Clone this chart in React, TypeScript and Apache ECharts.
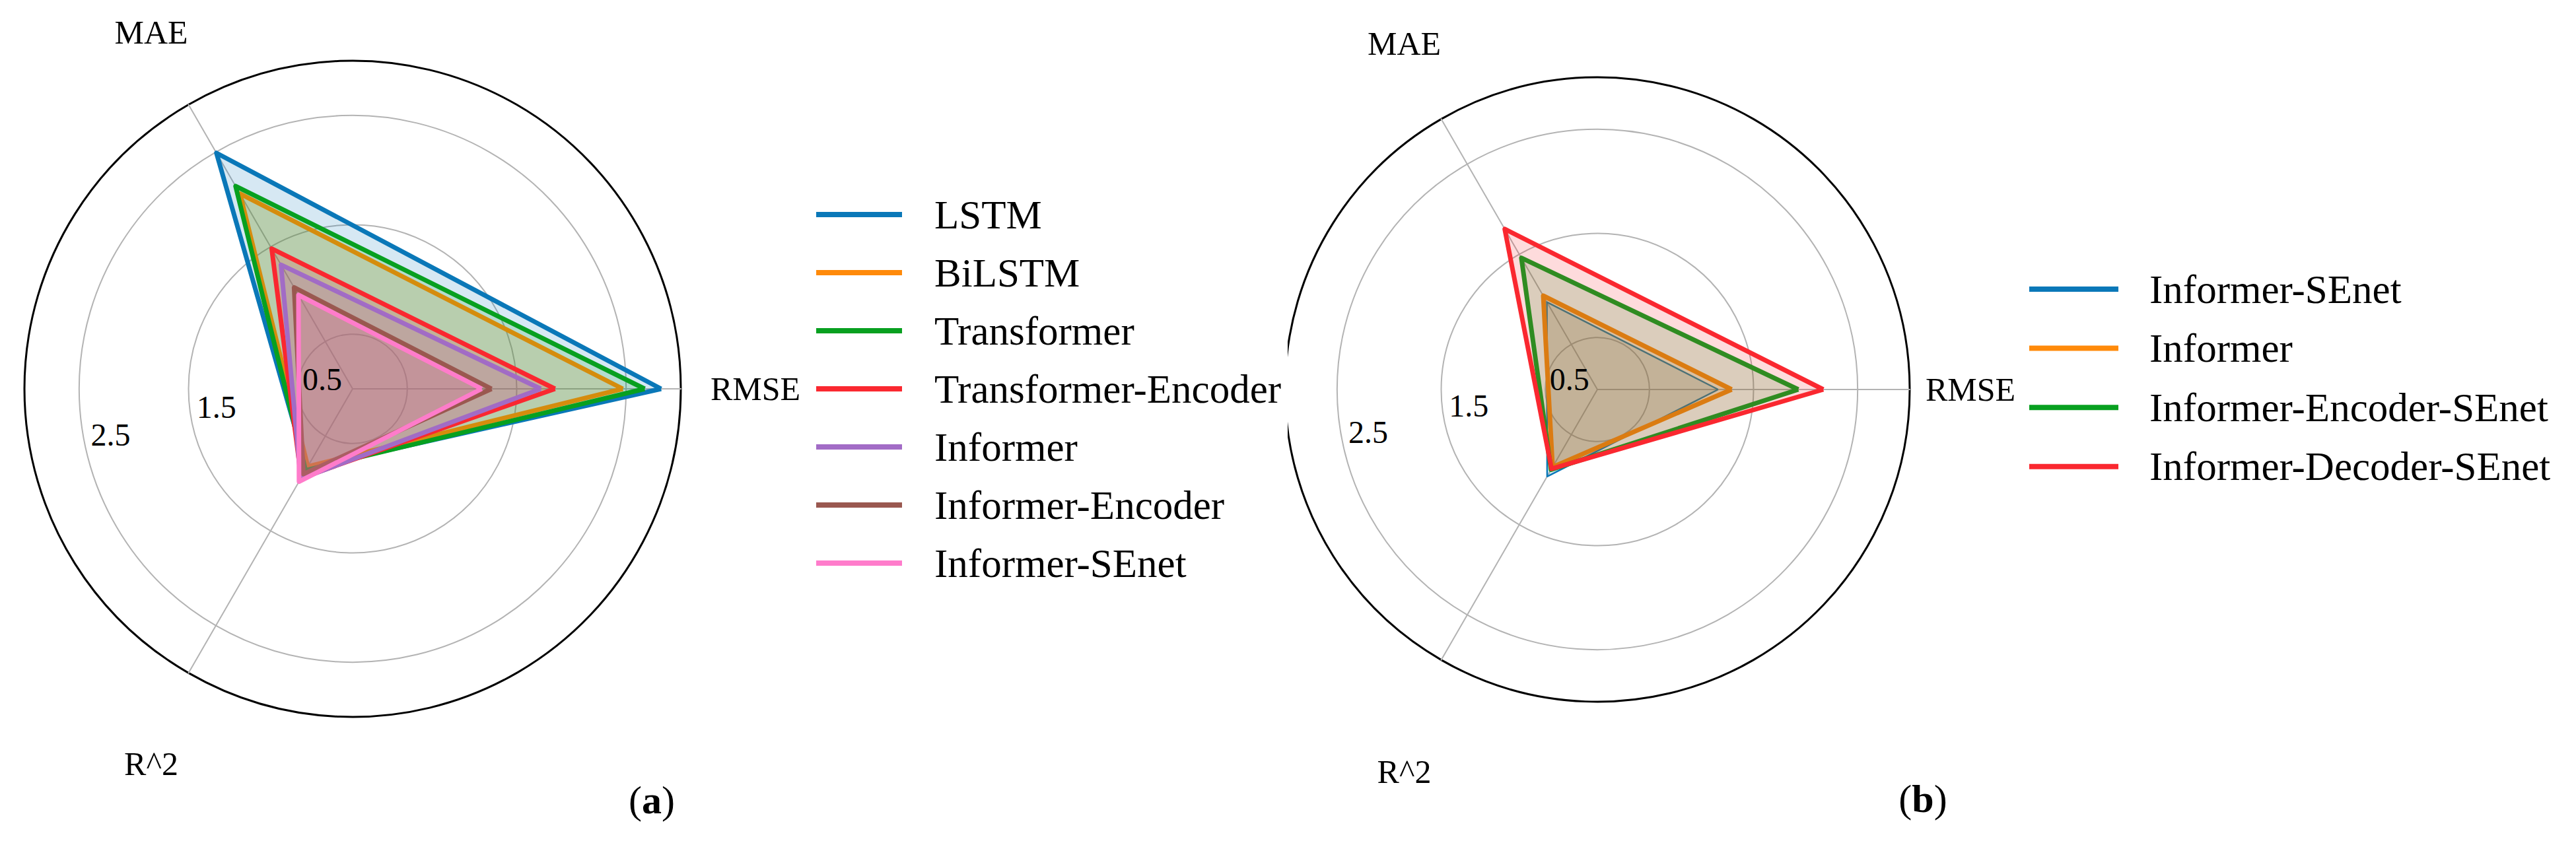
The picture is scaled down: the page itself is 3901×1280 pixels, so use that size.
import React, { useEffect, useRef } from 'react';
import * as echarts from 'echarts';

// ---------- data ----------
const indicators = ['RMSE', 'MAE', 'R^2'];
const axisMax = 3;
const tickLabelValues = [0.5, 1.5, 2.5];

// panel (a)
const modelsA = ['LSTM', 'BiLSTM', 'Transformer', 'Transformer-Encoder', 'Informer', 'Informer-Encoder', 'Informer-SEnet'];
const rmseA = [2.82, 2.47, 2.67, 1.85, 1.72, 1.27, 1.18];
const maeA = [2.49, 2.06, 2.14, 1.48, 1.31, 1.07, 0.99];
const r2A = [0.84, 0.82, 0.86, 0.94, 0.95, 0.9, 0.98];
const colorsA = ['#0a78b8', '#ff8a0a', '#08a020', '#fa2830', '#a26cc6', '#9a5850', '#ff7ccb'];

// panel (b)
const modelsB = ['Informer-SEnet', 'Informer', 'Informer-Encoder-SEnet', 'Informer-Decoder-SEnet'];
const rmseB = [1.16, 1.29, 1.93, 2.17];
const maeB = [0.97, 1.04, 1.46, 1.78];
const r2B = [0.965, 0.86, 0.89, 0.88];
const colorsB = ['#0a78b8', '#ff8a0a', '#08a020', '#fa2830'];
const lineWidthsB = [2.5, 7, 7, 7];

const FONT = "'Liberation Serif', 'Times New Roman', serif";

type Panel = {
  models: string[];
  rmse: number[];
  mae: number[];
  r2: number[];
  colors: string[];
  widths: number[];
  center: [number, number];
  radius: number;
  nameGap: number;
  namePads: number[][];
  legendLeft: number;
  legendTop: number;
  legendItemWidth: number;
  legendGap: number;
  legendPad: number;
  caption: string;
  captionX: number;
  captionY: number;
};

function makeOption(p: Panel) {
  const gray = '#b3b3b3';
  const clear = 'rgba(0,0,0,0)';
  const rich: Record<string, any> = {};
  indicators.forEach((_, i) => {
    rich['n' + i] = { fontFamily: FONT, fontSize: 50, color: '#000', padding: p.namePads[i] };
  });
  return {
    animation: false,
    backgroundColor: '#ffffff',
    legend: {
      orient: 'vertical',
      left: p.legendLeft,
      top: p.legendTop,
      data: p.models.map((n) => ({ name: n, icon: 'rect' })),
      itemWidth: p.legendItemWidth,
      itemHeight: 8,
      itemGap: p.legendGap,
      selectedMode: false,
      itemStyle: { borderWidth: 0 },
      textStyle: {
        fontFamily: FONT,
        fontSize: 61,
        color: '#000',
        lineHeight: 70,
        padding: [0, 0, 0, p.legendPad],
      },
    },
    radar: {
      center: p.center,
      radius: p.radius,
      startAngle: 0,
      shape: 'circle',
      splitNumber: 6,
      indicator: indicators.map((n) => ({ name: n, min: 0, max: axisMax })),
      axisName: {
        color: '#000',
        fontSize: 50,
        fontFamily: FONT,
        align: 'center',
        verticalAlign: 'middle',
        formatter: (name: string) => `{n${indicators.indexOf(name)}|${name}}`,
        rich,
      },
      axisNameGap: p.nameGap,
      axisLine: { lineStyle: { color: gray, width: 2 } },
      axisTick: { show: false },
      axisLabel: { show: false },
      splitLine: {
        lineStyle: { color: [clear, gray, clear, gray, clear, gray, clear], width: 2 },
      },
      splitArea: { show: false },
    },
    polar: { center: p.center, radius: p.radius },
    angleAxis: {
      type: 'value',
      min: 0,
      max: 360,
      startAngle: 194.8,
      axisLine: { show: true, lineStyle: { color: '#000', width: 3 } },
      axisTick: { show: false },
      axisLabel: { show: false },
      splitLine: { show: false },
    },
    radiusAxis: {
      type: 'value',
      min: 0,
      max: axisMax,
      interval: 0.5,
      z: 10,
      axisLine: { show: false },
      axisTick: { show: false },
      splitLine: { show: false },
      axisLabel: {
        margin: 0,
        fontFamily: FONT,
        fontSize: 48,
        lineHeight: 48,
        color: '#000',
        align: 'left',
        verticalAlign: 'bottom',
        padding: [0, 0, 12, 4],
        formatter: (v: number) =>
          tickLabelValues.some((t) => Math.abs(t - v) < 1e-9) ? v.toFixed(1) : '',
      },
    },
    graphic: [
      {
        type: 'text',
        x: p.captionX,
        y: p.captionY,
        style: {
          text: `{p|(}{b|${p.caption}}{p|)}`,
          align: 'center',
          verticalAlign: 'middle',
          rich: {
            p: { fontFamily: FONT, fontSize: 60, color: '#000' },
            b: { fontFamily: FONT, fontSize: 60, fontWeight: 'bold', color: '#000' },
          },
        },
      },
    ],
    series: p.models.map((name, i) => {
      const lineStyle = { color: p.colors[i], width: p.widths[i], join: 'round' };
      const areaStyle = { color: p.colors[i], opacity: 0.17 };
      return {
        type: 'radar',
        name,
        symbol: 'none',
        itemStyle: { color: p.colors[i] },
        lineStyle,
        areaStyle,
        data: [{ name, value: [p.rmse[i], p.mae[i], p.r2[i]], lineStyle, areaStyle }],
      };
    }),
  };
}

const panelA: Panel = {
  models: modelsA,
  rmse: rmseA,
  mae: maeA,
  r2: r2A,
  colors: colorsA,
  widths: modelsA.map(() => 7),
  center: [534, 589],
  radius: 497,
  nameGap: 113,
  namePads: [[0, 0, 0, 0], [0, 0, 24, 0], [80, 0, 0, 0]],
  legendLeft: 1231,
  legendTop: 285,
  legendItemWidth: 130,
  legendGap: 18,
  legendPad: 44,
  caption: 'a',
  captionX: 987,
  captionY: 1212,
};

const panelB: Panel = {
  models: modelsB,
  rmse: rmseB,
  mae: maeB,
  r2: r2B,
  colors: colorsB,
  widths: lineWidthsB,
  center: [469, 590],
  radius: 473,
  nameGap: 112,
  namePads: [[0, 40, 0, 0], [0, 0, 34, 0], [144, 0, 0, 0]],
  legendLeft: 1118,
  legendTop: 398,
  legendItemWidth: 135,
  legendGap: 19.6,
  legendPad: 42,
  caption: 'b',
  captionX: 962,
  captionY: 1210,
};

function RadarPanel({ panel, left, width }: { panel: Panel; left: number; width: number }) {
  const ref = useRef<HTMLDivElement>(null);
  useEffect(() => {
    if (!ref.current) return;
    const chart = echarts.init(ref.current, undefined, { renderer: 'svg' });
    chart.setOption(makeOption(panel) as any);
    return () => chart.dispose();
  }, [panel]);
  return (
    <div
      ref={ref}
      style={{ position: 'absolute', left, top: 0, width, height: 1280 }}
    />
  );
}

export default function App() {
  return (
    <div style={{ position: 'absolute', left: 0, top: 0, width: 3901, height: 1280, background: '#fff' }}>
      <RadarPanel panel={panelA} left={0} width={1950} />
      <RadarPanel panel={panelB} left={1950} width={1951} />
    </div>
  );
}
